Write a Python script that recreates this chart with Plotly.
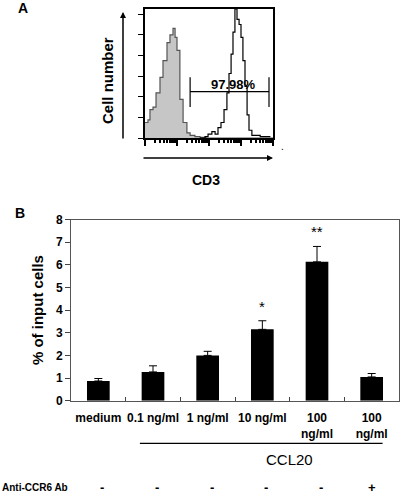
import plotly.graph_objects as go

# ---------------- Panel A data (flow cytometry histogram) ----------------
iso_intensity = [1.0, 1.24, 1.43, 1.78, 2.21, 2.94, 3.65, 4.87, 6.03, 7.50, 8.71, 10.0,
                 12.3, 15.5, 20.4, 25.7, 36.3, 52.5, 79.4, 10000]
iso_count = [12, 14, 22, 24, 35, 47, 60, 74, 80, 85, 78, 68, 30, 12, 4, 2, 1, 0.5, 0, 0]

cd3_intensity = [52.5, 75.0, 93.3, 123, 155, 191, 237, 295, 363, 422, 490, 562, 646,
                 750, 871, 1000, 1148, 1334, 1549, 1778, 2188, 3981, 7943]
cd3_count = [0, 1, 3, 5, 3, 8, 12, 22, 35, 50, 65, 82, 100, 92, 88, 78, 60, 40, 18, 6, 2, 1, 0.5]

gate_lo, gate_hi = 25.7, 7500
gate_y, gate_top, gate_bottom = 36, 47, 24
gate_label = "97.98%"

# ---------------- Panel B data (bar chart) ----------------
categories = ["medium", "0.1 ng/ml", "1 ng/ml", "10 ng/ml", "100 ng/ml", "100 ng/ml "]
tick_text = ["medium", "0.1 ng/ml", "1 ng/ml", "10 ng/ml", "100<br>ng/ml", "100<br>ng/ml"]
values = [0.87, 1.27, 2.0, 3.15, 6.13, 1.05]
errors = [0.11, 0.27, 0.18, 0.38, 0.68, 0.15]
significance = ["", "", "", "*", "**", ""]
anti_ccr6 = ["-", "-", "-", "-", "-", "+"]
y_ticks = [0, 1, 2, 3, 4, 5, 6, 7, 8]

W, H = 400, 495
FONT = "Liberation Sans, Arial"
def px(x): return x / W
def py(y): return 1 - y / H

fig = go.Figure()

# Panel A traces
fig.add_trace(go.Scatter(x=iso_intensity, y=iso_count, mode="lines", line_shape="hv",
                         fill="tozeroy", fillcolor="#c6c6c6",
                         line=dict(color="#555555", width=1.2),
                         xaxis="x", yaxis="y", showlegend=False))
fig.add_trace(go.Scatter(x=cd3_intensity, y=cd3_count, mode="lines", line_shape="hv",
                         line=dict(color="black", width=1.2),
                         xaxis="x", yaxis="y", showlegend=False))
fig.add_trace(go.Scatter(x=[gate_lo, gate_lo, None, gate_lo, gate_hi, None, gate_hi, gate_hi],
                         y=[gate_bottom, gate_top, None, gate_y, gate_y, None, gate_bottom, gate_top],
                         mode="lines", line=dict(color="black", width=1.2),
                         xaxis="x", yaxis="y", showlegend=False, cliponaxis=False))

# Panel B bars
fig.add_trace(go.Bar(x=categories, y=values, marker_color="black", width=0.415,
                     error_y=dict(type="data", array=errors, arrayminus=[0] * len(errors),
                                  symmetric=False, color="black", thickness=1, width=4),
                     xaxis="x2", yaxis="y2", showlegend=False))

def note(x, y, text, size, xref="paper", yref="paper", **kw):
    d = dict(x=x, y=y, xref=xref, yref=yref, text=text, showarrow=False,
             xanchor="center", yanchor="middle", font=dict(family=FONT, size=size, color="black"))
    d.update(kw)
    return d

annotations = []
for c, v, e, s in zip(categories, values, errors, significance):
    if s:
        annotations.append(note(c, v + e, s, 15, xref="x2", yref="y2",
                                yanchor="bottom", yshift=4))
for i, s in enumerate(anti_ccr6):
    annotations.append(note(i, py(487), "<b>%s</b>" % s, 13, xref="x2",
                            xshift=0 if s == "+" else 4))
annotations += [
    note(px(0), py(487), "<b>Anti-CCR6 Ab</b>", 10, xanchor="left"),
    note(3.5, py(459), "CCL20", 15, xref="x2"),
    note(px(16), py(8), "<b>A</b>", 14, xanchor="left"),
    note(px(13), py(213), "<b>B</b>", 14, xanchor="left"),
    note(px(108), py(81), "<b>Cell number</b>", 15, textangle=-90),
    note(px(206), py(180), "<b>CD3</b>", 14),
    note(px(282), py(146), ".", 10),
    note(2.75, gate_y, "<b>%s</b>" % gate_label, 13, xref="x", yref="y",
         yanchor="bottom", yshift=-2),
    dict(x=px(273), y=py(158), xref="paper", yref="paper", ax=-131, ay=0, text="",
         showarrow=True, arrowhead=2, arrowsize=0.8, arrowwidth=1.5, arrowcolor="black"),
    dict(x=px(123), y=py(12), xref="paper", yref="paper", ax=0, ay=128, text="",
         showarrow=True, arrowhead=2, arrowsize=0.8, arrowwidth=1.5, arrowcolor="black"),
]

shapes = [dict(type="line", xref="x2", yref="paper", x0=0.76, x1=5.2, y0=py(443.3), y1=py(443.3),
               line=dict(color="black", width=1.2))]

fig.update_layout(
    template="none",
    width=W, height=H, margin=dict(l=0, r=0, t=0, b=0, pad=0),
    paper_bgcolor="white", plot_bgcolor="white",
    font=dict(family=FONT, color="black"),
    annotations=annotations, shapes=shapes, bargap=0.5,
    xaxis=dict(domain=[px(145), px(273)], anchor="y", type="log", range=[0, 4], automargin=False,
               showline=True, mirror=True, linecolor="black", linewidth=1.5,
               showgrid=False, zeroline=False, showticklabels=False,
               ticks="outside", ticklen=6, tickwidth=1.5, tickcolor="black", dtick=1,
               minor=dict(ticks="outside", ticklen=3, tickcolor="black", showgrid=False)),
    yaxis=dict(domain=[py(138), py(9)], anchor="x", range=[0, 100], automargin=False,
               showline=True, mirror=True, linecolor="black", linewidth=1.5,
               showgrid=False, zeroline=False, showticklabels=False,
               ticks="outside", ticklen=5, tickwidth=1.2, tickcolor="black", dtick=16,
               minor=dict(ticks="outside", ticklen=3, tickcolor="black", nticks=4, showgrid=False)),
    xaxis2=dict(domain=[px(71), px(399)], anchor="y2", type="category", automargin=False,
                tickmode="array", tickvals=categories,
                ticktext=["<b>%s</b>" % t for t in tick_text], tickangle=0,
                ticklabelstandoff=6,
                tickson="boundaries", ticks="inside", ticklen=4, tickcolor="#444",
                showline=True, mirror=True, linecolor="#555", linewidth=1,
                showgrid=False, zeroline=False,
                tickfont=dict(family=FONT, size=12)),
    yaxis2=dict(domain=[py(400.7), py(219.5)], anchor="x2", range=[0, 8], automargin=False,
                tickmode="array", tickvals=y_ticks, ticktext=["<b>%d</b>" % t for t in y_ticks],
                ticks="outside", ticklen=5, tickcolor="#444",
                showline=True, mirror=True, linecolor="#555", linewidth=1,
                showgrid=False, zeroline=False,
                title=dict(text="<b>% of input cells</b>", standoff=8,
                           font=dict(family=FONT, size=15)),
                tickfont=dict(family=FONT, size=12)),
)

fig.write_html("out.html", config={"displayModeBar": False},
               post_script="document.body.style.margin='0';")
